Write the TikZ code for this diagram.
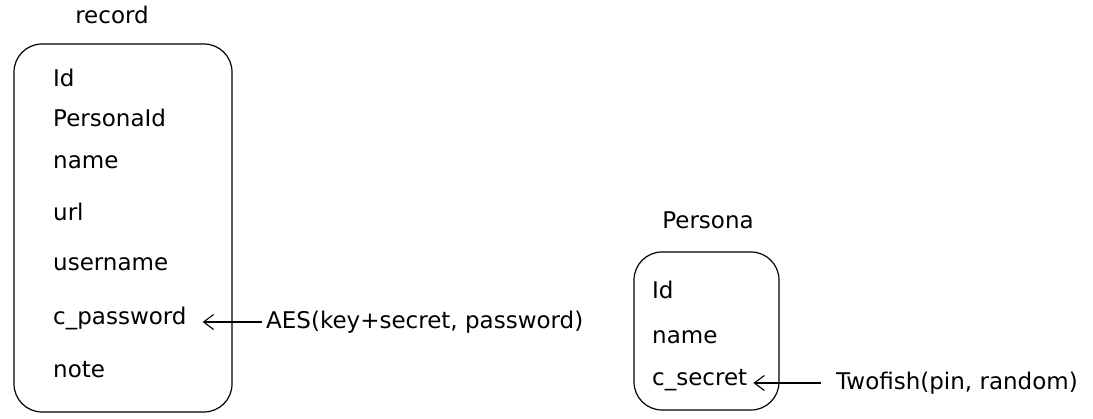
\documentclass[tikz,border=0pt]{standalone}
\usepackage{fontspec}
\setmainfont{DejaVu Sans}
\usetikzlibrary{arrows.meta}

\tikzset{
  tablebox/.style={draw, line width=1.2pt, rounded corners=28pt, inner sep=0pt},
  field/.style={anchor=west, inner sep=0pt, font=\fontsize{23}{26}\selectfont},
  title/.style={inner sep=0pt, font=\fontsize{23}{26}\selectfont},
  note/.style={anchor=west, inner sep=0pt, font=\fontsize{23}{26}\selectfont},
  link/.style={line width=1.1pt, -{Straight Barb[length=10pt, width=15pt]}}
}

\begin{document}
\begin{tikzpicture}[x=1pt, y=-1pt]
  \useasboundingbox (0,0) rectangle (1093,419);
  % record テーブル
  \node[tablebox, minimum width=218pt, minimum height=368pt] (record) at (123,228) {};
  \node[title] (recordtitle) at (112,15) {record};
  \foreach \nm/\txt/\y in {rid/Id/78, rpid/PersonaId/118, rname/name/162,
                           rurl/url/212, ruser/username/264, rpass/c\_password/318,
                           rnote/note/370} {
    \node[field] (\nm) at (53,\y) {\txt};
  }
  % Persona テーブル
  \node[tablebox, minimum width=145pt, minimum height=158pt] (persona) at (706.5,331) {};
  \node[title] (personatitle) at (708,220) {Persona};
  \foreach \nm/\txt/\y in {pid/Id/290, pname/name/337, psecret/c\_secret/380} {
    \node[field] (\nm) at (652,\y) {\txt};
  }
  % 暗号化の説明と矢印
  \node[note] (aes) at (266,322) {AES(key+secret, password)};
  \node[note] (twofish) at (836,383) {Twofish(pin, random)};
  \draw[link] ([xshift=-4pt]aes.west) -- ([xshift=16pt]rpass.east |- aes.west);
  \draw[link] ([xshift=-15pt]twofish.west) -- ([xshift=6pt]psecret.east |- twofish.west);
\end{tikzpicture}
\end{document}
